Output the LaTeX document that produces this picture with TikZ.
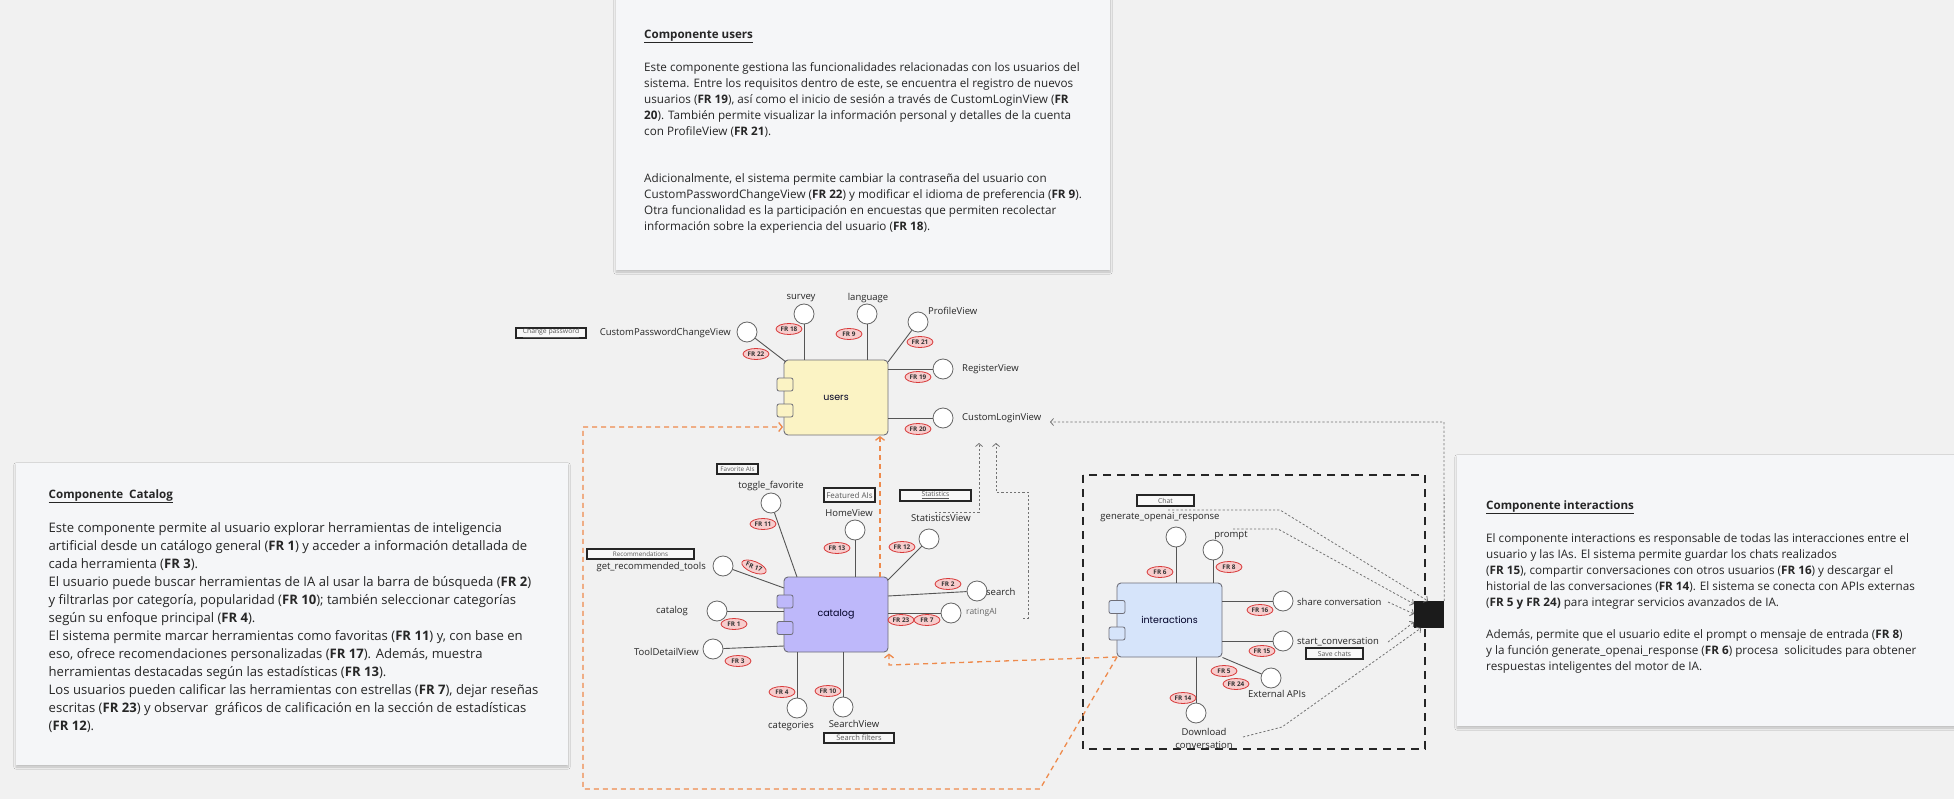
\documentclass[tikz,border=0pt]{standalone}
\usepackage{fontspec}
\setmainfont{Open Sans}
\newfontfamily\compfont{Poppins}
\usetikzlibrary{shapes.geometric,arrows.meta,shadows.blur}
\definecolor{bg}{HTML}{F1F1F1}
\definecolor{cardc}{HTML}{F5F6F8}
\definecolor{usery}{HTML}{FBF3C4}
\definecolor{catv}{HTML}{BEB8FA}
\definecolor{intb}{HTML}{D6E4FA}
\definecolor{orangeln}{HTML}{EE8A4C}
\definecolor{compborder}{HTML}{6E6E78}
\definecolor{stemc}{HTML}{555555}
\definecolor{txt}{HTML}{262626}
\definecolor{frred}{HTML}{D83A3A}
\definecolor{frfill}{HTML}{F7CDCD}
\definecolor{sinkc}{HTML}{1B1B1B}
\tikzset{
  cardbox/.style={fill=cardc, draw=none, blur shadow={shadow blur steps=10, shadow xshift=0pt, shadow yshift=-2pt, shadow opacity=22}},
  comp/.style={draw=compborder, line width=0.9pt, rounded corners=4pt, minimum width=104pt, minimum height=75pt, inner sep=0, font=\compfont\fontsize{9.5}{11}\selectfont, text=black!75!blue!60!black},
  port/.style={draw=compborder, line width=0.8pt, rounded corners=2pt, minimum width=16pt, minimum height=13pt, inner sep=0},
  lolli/.style={circle, draw=black!60, fill=white, minimum size=20pt, inner sep=0, line width=0.8pt},
  stem/.style={draw=stemc, line width=0.9pt},
  lbl/.style={font=\fontsize{9.5}{13}\selectfont, text=txt, inner sep=0},
  frtag/.style={ellipse, draw=frred, fill=frfill, line width=0.8pt, minimum width=26pt, minimum height=11pt, inner sep=0, font=\bfseries\fontsize{6.4}{7}\selectfont, text=black!80},
  tagbox/.style={draw=black!85, line width=1.2pt, fill=white!50!bg, inner sep=0, font=\fontsize{6.8}{8}\selectfont, text=black!65},
  gdash/.style={draw=black!55, line width=0.8pt, dash pattern=on 2.2pt off 2pt, -{Straight Barb[length=3pt,width=7pt]}},
  odash/.style={draw=orangeln, line width=1.3pt, dash pattern=on 5pt off 4pt, -{Straight Barb[length=3.5pt,width=9pt]}},
  ttl/.style={font=\bfseries\fontsize{11.6}{14}\selectfont, text=txt, inner sep=0, anchor=base west},
  bodyu/.style={font=\fontsize{11.7}{16}\selectfont, text=txt, inner sep=0, anchor=north west, align=left},
  bodyc/.style={font=\fontsize{13.1}{18}\selectfont, text=txt, inner sep=0, anchor=north west, align=left},
}
\begin{document}
\begin{tikzpicture}[x=1pt,y=-1pt]
\fill[bg] (0,0) rectangle (1954,799);
\useasboundingbox (0,0) rectangle (1954,799);

% ---------- text cards ----------
\fill[cardbox] (616,-6) rectangle (1110,270);
\fill[cardbox] (16,463) rectangle (568,765);
\fill[cardbox] (1457,455) rectangle (1964,726);

\node[ttl] (tusers) at (644,38.5) {\underline{Componente users}};
\node[bodyu] (pusers1) at (644,62) {Este componente gestiona las funcionalidades relacionadas con los usuarios del\\
sistema. Entre los requisitos dentro de este, se encuentra el registro de nuevos\\
usuarios (\textbf{FR 19}), así como el inicio de sesión a través de CustomLoginView (\textbf{FR}\\
\textbf{20}). También permite visualizar la información personal y detalles de la cuenta\\
con ProfileView (\textbf{FR 21}).};
\node[bodyu] (pusers2) at (644,173.5) {Adicionalmente, el sistema permite cambiar la contraseña del usuario con\\
CustomPasswordChangeView (\textbf{FR 22}) y modificar el idioma de preferencia (\textbf{FR 9}).\\
Otra funcionalidad es la participación en encuestas que permiten recolectar\\
información sobre la experiencia del usuario (\textbf{FR 18}).};

\node[ttl] (tcat) at (48.5,498.5) {\underline{Componente\ \ Catalog}};
\node[bodyc] (pcat) at (48.5,522) {Este componente permite al usuario explorar herramientas de inteligencia\\
artificial desde un catálogo general (\textbf{FR 1}) y acceder a información detallada de\\
cada herramienta (\textbf{FR 3}).\\
El usuario puede buscar herramientas de IA al usar la barra de búsqueda (\textbf{FR 2})\\
y filtrarlas por categoría, popularidad (\textbf{FR 10}); también seleccionar categorías\\
según su enfoque principal (\textbf{FR 4}).\\
El sistema permite marcar herramientas como favoritas (\textbf{FR 11}) y, con base en\\
eso, ofrece recomendaciones personalizadas (\textbf{FR 17}). Además, muestra\\
herramientas destacadas según las estadísticas (\textbf{FR 13}).\\
Los usuarios pueden calificar las herramientas con estrellas (\textbf{FR 7}), dejar reseñas\\
escritas (\textbf{FR 23}) y observar\ \ gráficos de calificación en la sección de estadísticas\\
(\textbf{FR 12}).};

\node[ttl] (tint) at (1486,509.5) {\underline{Componente interactions}};
\node[bodyu] (pint1) at (1486,533) {El componente interactions es responsable de todas las interacciones entre el\\
usuario y las IAs. El sistema permite guardar los chats realizados\\
(\textbf{FR 15}), compartir conversaciones con otros usuarios (\textbf{FR 16}) y descargar el\\
historial de las conversaciones (\textbf{FR 14}). El sistema se conecta con APIs externas\\
(\textbf{FR 5 y FR 24)} para integrar servicios avanzados de IA.};
\node[bodyu] (pint2) at (1486,629) {Además, permite que el usuario edite el prompt o mensaje de entrada (\textbf{FR 8})\\
y la función generate\_openai\_response (\textbf{FR 6}) procesa\ \ solicitudes para obtener\\
respuestas inteligentes del motor de IA.};

% ---------- interactions frame ----------
\draw[black!85, line width=2.4pt, dash pattern=on 8pt off 6pt] (1083,475) rectangle (1425,749);

% ---------- components ----------
\node[comp, fill=usery] (users) at (836,397.5) {users};
\node[comp, fill=catv] (catalog) at (836,614.5) {catalog};
\node[comp, fill=intb, minimum width=105pt, minimum height=74pt] (inter) at (1169.5,620) {interactions};
\node[port, fill=usery] (up1) at (785,384.5) {};
\node[port, fill=usery] (up2) at (785,410.5) {};
\node[port, fill=catv] (cp1) at (785,601.5) {};
\node[port, fill=catv] (cp2) at (785,628) {};
\node[port, fill=intb] (ip1) at (1117,607) {};
\node[port, fill=intb] (ip2) at (1117,633.5) {};

\node[minimum width=30pt, minimum height=27pt, fill=sinkc, inner sep=0] (sink) at (1429,614.5) {};

% ---------- orange dependencies ----------
\coordinate (oA) at (1117,657);
\draw[odash] (oA) -- (1040,789) -- (583,789) -- (583,427) -- (783,427);
\draw[odash] (oA) -- (889,665) -- (889,653.5);
\coordinate (oC) at (880,577);
\draw[odash] (oC) -- (880,436);

% ---------- gray dotted ----------
\coordinate (g1) at (1168,510);
\coordinate (g2) at (1233,529);
\coordinate (g3) at (1388,602);
\coordinate (g4) at (1388,642);
\coordinate (g5) at (1243,737);
\draw[gdash] (g1) -- (1280,510) -- (1428,601);
\draw[gdash] (g2) -- (1278,529) -- (1414,604);
\draw[gdash] (g3) -- (1414,614);
\draw[gdash] (g4) -- (1414,622);
\draw[gdash] (g5) -- (1282,727) -- (1421,628);
\draw[gdash] (sink.north east) -- (1444,422) -- (1050,422);
\coordinate (g7) at (935,512);
\draw[gdash] (g7) -- (979,512) -- (979,443);
\coordinate (g8) at (1023,618);
\draw[gdash] (g8) -- (1028,618) -- (1028,492) -- (996,492) -- (996,443);

% ---------- users lollipops ----------
\node[lolli] (cpw) at (747,332) {};
\node[lolli] (survey) at (804,314) {};
\node[lolli] (lang) at (867,314) {};
\node[lolli] (profile) at (918,322) {};
\node[lolli] (register) at (943,369) {};
\node[lolli] (login) at (943,418) {};
\coordinate (uNW) at (786,362);
\coordinate (uNE) at (888,362);
\draw[stem] (cpw) -- (uNW);
\draw[stem] (survey) -- (survey |- users.north);
\draw[stem] (lang) -- (lang |- users.north);
\draw[stem] (profile) -- (uNE);
\draw[stem] (register) -- (register -| users.east);
\draw[stem] (login) -- (login -| users.east);
\node[lbl, anchor=east] (cpwl) at (731,333) {CustomPasswordChangeView};
\node[lbl] (surveyl) at (801,298) {survey};
\node[lbl] (langl) at (868,298) {language};
\node[lbl, anchor=west] (profilel) at (928,311) {ProfileView};
\node[lbl, anchor=west] (registerl) at (962,369) {RegisterView};
\node[lbl, anchor=west] (loginl) at (962,418) {CustomLoginView};
\node[tagbox, minimum width=70pt, minimum height=10pt] (tchpw) at (551,333) {\underline{Change password}};
\node[frtag] (fr22) at (756,354) {FR 22};
\node[frtag] (fr18) at (789,329) {FR 18};
\node[frtag] (fr9) at (849,334) {FR 9};
\node[frtag] (fr21) at (920,342) {FR 21};
\node[frtag] (fr19) at (918,377) {FR 19};
\node[frtag] (fr20) at (918,429) {FR 20};

% ---------- catalog lollipops ----------
\node[lolli] (toggle) at (771,503) {};
\node[lolli] (home) at (855,530) {};
\node[lolli] (statsv) at (929,539) {};
\node[lolli] (getrec) at (723,566) {};
\node[lolli] (catl) at (717,611) {};
\node[lolli] (tool) at (713,649) {};
\node[lolli] (categ) at (797,708) {};
\node[lolli] (searchv) at (843,707) {};
\node[lolli] (search) at (977,591) {};
\node[lolli] (rating) at (951,613) {};
\coordinate (cT) at (797,577);
\coordinate (cNE) at (888,580);
\coordinate (cGR) at (784,588);
\coordinate (cTD) at (784,646);
\coordinate (cSE) at (888,596);
\draw[stem] (toggle) -- (cT);
\draw[stem] (home) -- (home |- catalog.north);
\draw[stem] (statsv) -- (cNE);
\draw[stem] (getrec) -- (cGR);
\draw[stem] (catl) -- (catl -| catalog.west);
\draw[stem] (tool) -- (cTD);
\draw[stem] (categ) -- (categ |- catalog.south);
\draw[stem] (searchv) -- (searchv |- catalog.south);
\draw[stem] (search) -- (cSE);
\draw[stem] (rating) -- (rating -| catalog.east);
\node[lbl] (togglel) at (771,486) {toggle\_favorite};
\node[lbl] (homel) at (849,513) {HomeView};
\node[lbl] (statsvl) at (941,518) {StatisticsView};
\node[lbl, anchor=east] (getrecl) at (706,567) {get\_recommended\_tools};
\node[lbl] (catll) at (672,611) {catalog};
\node[lbl, anchor=east] (tooll) at (699,652) {ToolDetailView};
\node[lbl] (categl) at (791,726) {categories};
\node[lbl] (searchvl) at (854,724) {SearchView};
\node[lbl, anchor=west] (searchl) at (986,592) {search};
\node[lbl, anchor=west, font=\fontsize{8.5}{10}\selectfont, text=black!60] (ratingl) at (966,612) {ratingAI};
\node[tagbox, minimum width=41pt, minimum height=10pt, font=\fontsize{6.3}{7}\selectfont] (tfav) at (737.5,469) {Favorite AIs};
\node[tagbox, minimum width=51pt, minimum height=14pt, font=\fontsize{8}{9}\selectfont] (tfeat) at (849.5,495) {Featured AIs};
\node[tagbox, minimum width=71pt, minimum height=11pt] (tstat) at (935.5,495.5) {\underline{Statistics}};
\node[tagbox, minimum width=107pt, minimum height=10pt, font=\fontsize{6.3}{7}\selectfont] (trec) at (640.5,554) {Recommendations};
\node[tagbox, minimum width=70pt, minimum height=10pt, font=\fontsize{7.5}{8}\selectfont] (tsf) at (859,738) {Search filters};
\node[frtag] (fr11) at (763,524) {FR 11};
\node[frtag] (fr13) at (837,548) {FR 13};
\node[frtag] (fr12) at (902,547) {FR 12};
\node[frtag, rotate=-22] (fr17) at (754,567) {FR 17};
\node[frtag] (fr1) at (734,624) {FR 1};
\node[frtag] (fr3) at (738,661) {FR 3};
\node[frtag] (fr4) at (782,692) {FR 4};
\node[frtag] (fr10) at (828,691) {FR 10};
\node[frtag] (fr2) at (948,584) {FR 2};
\node[frtag] (fr23) at (901,620) {FR 23};
\node[frtag] (fr7) at (927,620) {FR 7};

% ---------- interactions lollipops ----------
\node[lolli] (genai) at (1176,537) {};
\node[lolli] (prompt) at (1213,550) {};
\node[lolli] (share) at (1283,601) {};
\node[lolli] (start) at (1283,641) {};
\node[lolli] (extapi) at (1271,678) {};
\node[lolli] (download) at (1196,713) {};
\draw[stem] (genai) -- (genai |- inter.north);
\draw[stem] (prompt) -- (prompt |- inter.north);
\draw[stem] (share) -- (share -| inter.east);
\draw[stem] (start) -- (start -| inter.east);
\draw[stem] (extapi) -- (inter.south east);
\draw[stem] (download) -- (download |- inter.south);
\node[lbl] (genail) at (1160,517) {generate\_openai\_response};
\node[lbl] (promptl) at (1231,536) {prompt};
\node[lbl, anchor=west] (sharel) at (1297,602) {share conversation};
\node[lbl, anchor=west] (startl) at (1297,642) {start\_conversation};
\node[lbl] (extapil) at (1277,694) {External APIs};
\node[lbl, align=center] (downloadl) at (1204,738) {Download\\conversation};
\node[tagbox, minimum width=57pt, minimum height=11pt] (tchat) at (1165.5,500.5) {Chat};
\node[tagbox, minimum width=57pt, minimum height=11pt] (tsave) at (1334.5,653.5) {Save chats};
\node[frtag] (fr6) at (1160,572) {FR 6};
\node[frtag] (fr8) at (1229,567) {FR 8};
\node[frtag] (fr16) at (1260,610) {FR 16};
\node[frtag] (fr15) at (1262,651) {FR 15};
\node[frtag] (fr5) at (1224,671) {FR 5};
\node[frtag] (fr24) at (1236,684) {FR 24};
\node[frtag] (fr14) at (1183,698) {FR 14};
\end{tikzpicture}
\end{document}
